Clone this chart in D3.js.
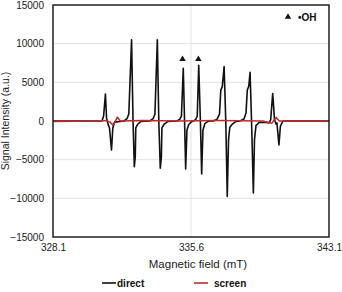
<!DOCTYPE html>
<html>
<head>
<meta charset="utf-8">
<script src="https://cdn.jsdelivr.net/npm/d3@7"></script>
<style>
  html, body { margin: 0; padding: 0; background: #fff; }
  svg { display: block; font-family: "Liberation Sans", Arial, sans-serif; }
</style>
</head>
<body>
<div id="chart"></div>
<script>
// magnetic field (mT) and signal intensity
const directField = [
  328.10, 330.76, 330.85, 330.95, 331.01, 331.09, 331.17, 331.28, 331.35, 331.44,
  331.96, 332.12, 332.22, 332.37, 332.45, 332.52, 332.57, 332.60, 332.69, 332.88,
  333.37, 333.54, 333.64, 333.77, 333.85, 333.93, 333.99, 334.02, 334.13, 334.35,
  334.84, 335.00, 335.08, 335.18, 335.25, 335.31, 335.38, 335.48, 335.65,
  335.74, 335.87, 335.94, 336.02, 336.11, 336.18, 336.25, 336.36, 336.47, 336.58,
  336.80, 337.01, 337.15, 337.22, 337.30, 337.40, 337.49, 337.57, 337.64, 337.71, 337.83, 338.05,
  338.26, 338.48, 338.59, 338.66, 338.74, 338.81, 338.89, 338.99, 339.05, 339.13, 339.30, 339.62, 339.84,
  339.93, 340.04, 340.14, 340.22, 340.27, 340.38, 340.46, 340.60, 343.10
];
const directSignal = [
  0, 0, 650, 3500, 400, -400, -900, -3750, -900, -150,
  0, 300, 900, 10500, 0, -5900, -4650, -900, -450, -50,
  0, 300, 900, 10500, 0, -6100, -4650, -900, -450, -50,
  0, 250, 650, 6800, 0, -6200, -1150, -450, -50,
  0, 250, 650, 7200, 0, -6850, -1150, -300, -150, 0,
  0, 200, 900, 4000, 4450, 7050, 0, -9750, -2450, -800, -450, -50,
  0, 250, 1050, 4000, 4500, 6300, 0, -9300, -2450, -600, -200, -150, -250,
  150, 3550, 150, -400, -250, -3100, -650, 0, 0
];

const screenField = [
  328.10, 330.50, 331.00, 331.20, 331.35, 331.45, 331.60, 331.75,
  333.00, 335.00, 337.00, 339.50, 339.99, 340.22, 340.40, 343.10
];
const screenSignal = [
  -50, 0, 50, -150, -500, -200, 500, 0,
  50, 0, 50, 0, -300, 450, 0, 0
];

// •OH markers
const ohField = [335.14, 336.00];
const ohLevel = [8000, 8000];

const xTicks = [328.1, 335.6, 343.1];
const yTicks = [-15000, -10000, -5000, 0, 5000, 10000, 15000];
const xGrid = [335.6];
const yGrid = [-10000, -5000, 5000, 10000];

const W = 342, H = 292;
const margin = { top: 5, right: 13, bottom: 55, left: 53 };
const width = W - margin.left - margin.right;
const height = H - margin.top - margin.bottom;

const svg = d3.select('#chart').append('svg')
  .attr('width', W)
  .attr('height', H);

const g = svg.append('g')
  .attr('transform', `translate(${margin.left},${margin.top})`);

const x = d3.scaleLinear().domain([328.1, 343.1]).range([0, width]);
const y = d3.scaleLinear().domain([-15000, 15000]).range([height, 0]);

// grid
g.selectAll('.hgrid')
  .data(yGrid)
  .enter().append('line')
  .attr('x1', 0).attr('x2', width)
  .attr('y1', d => y(d)).attr('y2', d => y(d))
  .attr('stroke', '#e3e3e3').attr('stroke-width', 1);

g.selectAll('.vgrid')
  .data(xGrid)
  .enter().append('line')
  .attr('x1', d => x(d)).attr('x2', d => x(d))
  .attr('y1', 0).attr('y2', height)
  .attr('stroke', '#e3e3e3').attr('stroke-width', 1);

// axes (labels only, no tick marks)
const xAxis = g.append('g')
  .attr('transform', `translate(0,${height})`)
  .call(d3.axisBottom(x).tickValues(xTicks).tickSize(0).tickPadding(7).tickFormat(d3.format('.1f')));
xAxis.select('.domain').remove();
xAxis.selectAll('text').attr('font-size', 10).attr('fill', '#222')
  .style('font-family', '"Liberation Sans", Arial, sans-serif');

const yAxis = g.append('g')
  .call(d3.axisLeft(y).tickValues(yTicks).tickSize(0).tickPadding(9).tickFormat(d3.format('d')));
yAxis.select('.domain').remove();
yAxis.selectAll('text').attr('font-size', 10).attr('fill', '#222')
  .style('font-family', '"Liberation Sans", Arial, sans-serif');

// spectra
const line = d3.line()
  .x(d => x(d[0]))
  .y(d => y(d[1]));

g.append('path')
  .datum(d3.zip(directField, directSignal))
  .attr('fill', 'none')
  .attr('stroke', '#111')
  .attr('stroke-width', 1.6)
  .attr('stroke-linejoin', 'round')
  .attr('d', line);

g.append('path')
  .datum(d3.zip(screenField, screenSignal))
  .attr('fill', 'none')
  .attr('stroke', '#c62828')
  .attr('stroke-width', 1.5)
  .attr('stroke-linejoin', 'round')
  .attr('d', line);

// triangles over the •OH peaks
const tri = d3.symbol().type(d3.symbolTriangle).size(18);
g.selectAll('.oh')
  .data(d3.zip(ohField, ohLevel))
  .enter().append('path')
  .attr('transform', d => `translate(${x(d[0])},${y(d[1])})`)
  .attr('d', tri)
  .attr('fill', '#111');

// frame
g.append('rect')
  .attr('width', width).attr('height', height)
  .attr('fill', 'none')
  .attr('stroke', '#111')
  .attr('stroke-width', 1.4);

// top-right key
g.append('path')
  .attr('transform', `translate(${width - 41},12)`)
  .attr('d', tri)
  .attr('fill', '#111');
g.append('text')
  .attr('x', width - 31).attr('y', 16)
  .attr('font-size', 10).attr('font-weight', 'bold')
  .attr('fill', '#111')
  .text('•OH');

// axis titles
svg.append('text')
  .attr('x', 198).attr('y', 268)
  .attr('text-anchor', 'middle')
  .attr('font-size', 11.5)
  .attr('fill', '#222')
  .text('Magnetic field (mT)');

svg.append('text')
  .attr('transform', 'translate(9,121) rotate(-90)')
  .attr('text-anchor', 'middle')
  .attr('font-size', 10.5)
  .attr('fill', '#222')
  .text('Signal Intensity (a.u.)');

// legend
const legend = svg.append('g').attr('transform', 'translate(0,283)');
const items = [
  { name: 'direct', color: '#111', x0: 102 },
  { name: 'screen', color: '#c62828', x0: 194 }
];
items.forEach(it => {
  legend.append('line')
    .attr('x1', it.x0).attr('x2', it.x0 + 14)
    .attr('y1', 0).attr('y2', 0)
    .attr('stroke', it.color).attr('stroke-width', 1.6);
  legend.append('text')
    .attr('x', it.name === 'direct' ? it.x0 + 15 : it.x0 + 20)
    .attr('y', 3.5)
    .attr('font-size', 10).attr('font-weight', 'bold')
    .attr('fill', '#111')
    .text(it.name);
});
</script>
</body>
</html>
